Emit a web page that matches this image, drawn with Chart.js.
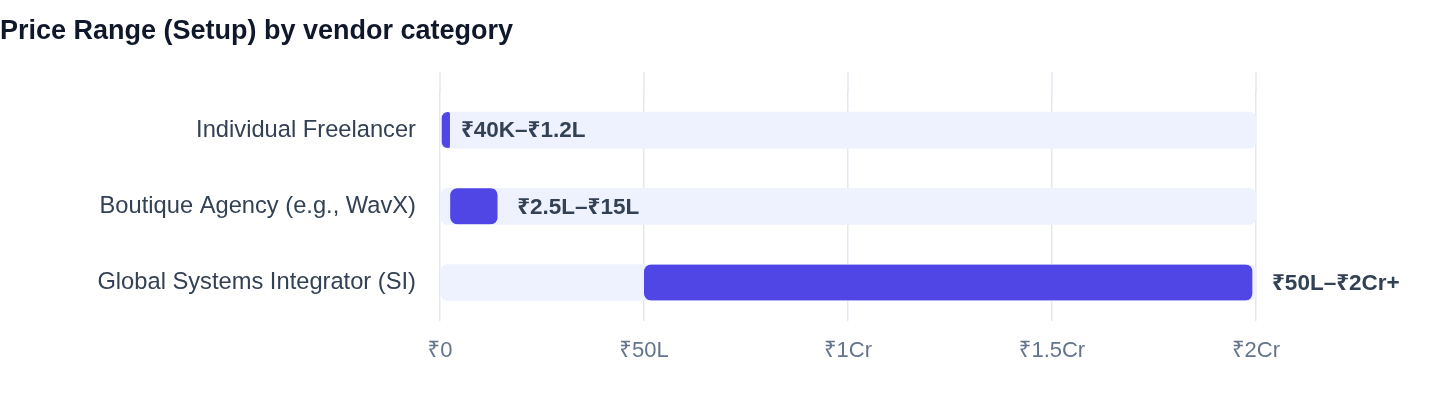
<!DOCTYPE html>
<html>
<head>
<meta charset="utf-8">
<script src="https://cdn.jsdelivr.net/npm/chart.js@4/dist/chart.umd.min.js"></script>
<style>
  html, body { margin: 0; padding: 0; background: #fff; }
  #wrap { width: 1440px; height: 408px; }
</style>
</head>
<body>
<div id="wrap"><canvas id="priceChart"></canvas></div>
<script>
// categories and values (in lakhs, ₹1Cr = 100L)
const categories = ['Individual Freelancer', 'Boutique Agency (e.g., WavX)', 'Global Systems Integrator (SI)'];
const rangeLow = [0.4, 2.5, 50];
const rangeHigh = [1.2, 15, 200];
const rangeLabels = ['₹40K–₹1.2L', '₹2.5L–₹15L', '₹50L–₹2Cr+'];
const trackMax = 200;
const tickValues = [0, 50, 100, 150, 200];
const tickLabels = ['₹0', '₹50L', '₹1Cr', '₹1.5Cr', '₹2Cr'];

const FONT = "'Liberation Sans', Arial, 'Noto Sans', 'DejaVu Sans', sans-serif";

// draw the range text right of each bar
const endLabels = {
    id: 'endLabels',
    afterDatasetsDraw(chart) {
        const ctx = chart.ctx;
        const meta = chart.getDatasetMeta(0);
        const xs = chart.scales.x;
        ctx.save();
        ctx.font = 'bold 22.5px ' + FONT;
        ctx.fillStyle = '#334155';
        ctx.textBaseline = 'middle';
        ctx.textAlign = 'left';
        meta.data.forEach((bar, i) => {
            ctx.fillText(rangeLabels[i], xs.getPixelForValue(rangeHigh[i]) + 16, bar.y + 1);
        });
        ctx.restore();
    }
};

// grid lines run a little above the plot area
const gridTop = {
    id: 'gridTop',
    beforeDatasetsDraw(chart) {
        const ctx = chart.ctx;
        const xs = chart.scales.x;
        const top = chart.chartArea.top;
        ctx.save();
        ctx.strokeStyle = '#e2e8f0';
        ctx.lineWidth = 1.5;
        xs.ticks.forEach(t => {
            const px = xs.getPixelForValue(t.value);
            ctx.beginPath();
            ctx.moveTo(px, top - 20);
            ctx.lineTo(px, top);
            ctx.stroke();
        });
        ctx.restore();
    }
};

const ctx = document.getElementById('priceChart').getContext('2d');
new Chart(ctx, {
    type: 'bar',
    data: {
        labels: categories,
        datasets: [{
            label: 'Range',
            data: rangeLow.map((v, i) => [v, rangeHigh[i]]),
            backgroundColor: '#4f46e5',
            borderColor: 'rgba(0,0,0,0)',
            borderWidth: { top: 0, bottom: 0, left: 0, right: 4 },
            borderSkipped: false,
            borderRadius: { topLeft: 7, bottomLeft: 7, topRight: 11, bottomRight: 11 },
            barThickness: 36,
            minBarLength: 12,
            grouped: false,
            order: 0
        }, {
            label: 'Track',
            data: categories.map(() => [0, trackMax]),
            backgroundColor: '#eef2ff',
            borderWidth: 0,
            borderSkipped: false,
            borderRadius: 7,
            barThickness: 36,
            grouped: false,
            order: 1
        }]
    },
    options: {
        indexAxis: 'y',
        responsive: true,
        maintainAspectRatio: false,
        animation: false,
        layout: { padding: { left: 0, right: 184, top: 0, bottom: 27 } },
        scales: {
            x: {
                min: 0,
                max: trackMax,
                afterBuildTicks: scale => { scale.ticks = tickValues.map(v => ({ value: v })); },
                ticks: {
                    callback: (v) => tickLabels[tickValues.indexOf(v)],
                    color: '#64748b',
                    font: { family: FONT, size: 22 },
                    padding: 17,
                    maxRotation: 0
                },
                grid: { color: '#e2e8f0', lineWidth: 1.5, drawTicks: false },
                border: { display: false }
            },
            y: {
                afterFit: scale => { scale.width = 440; },
                ticks: {
                    color: '#334155',
                    font: { family: FONT, size: 23.7 },
                    padding: 24
                },
                grid: { display: false, drawTicks: false },
                border: { display: false }
            }
        },
        plugins: {
            legend: { display: false },
            tooltip: { enabled: false },
            title: {
                display: true,
                text: 'Price Range (Setup) by vendor category',
                align: 'start',
                color: '#0f172a',
                font: { family: FONT, size: 27, weight: 'bold' },
                padding: { top: 15, bottom: 44.6 }
            }
        }
    },
    plugins: [endLabels, gridTop]
});
</script>
</body>
</html>
